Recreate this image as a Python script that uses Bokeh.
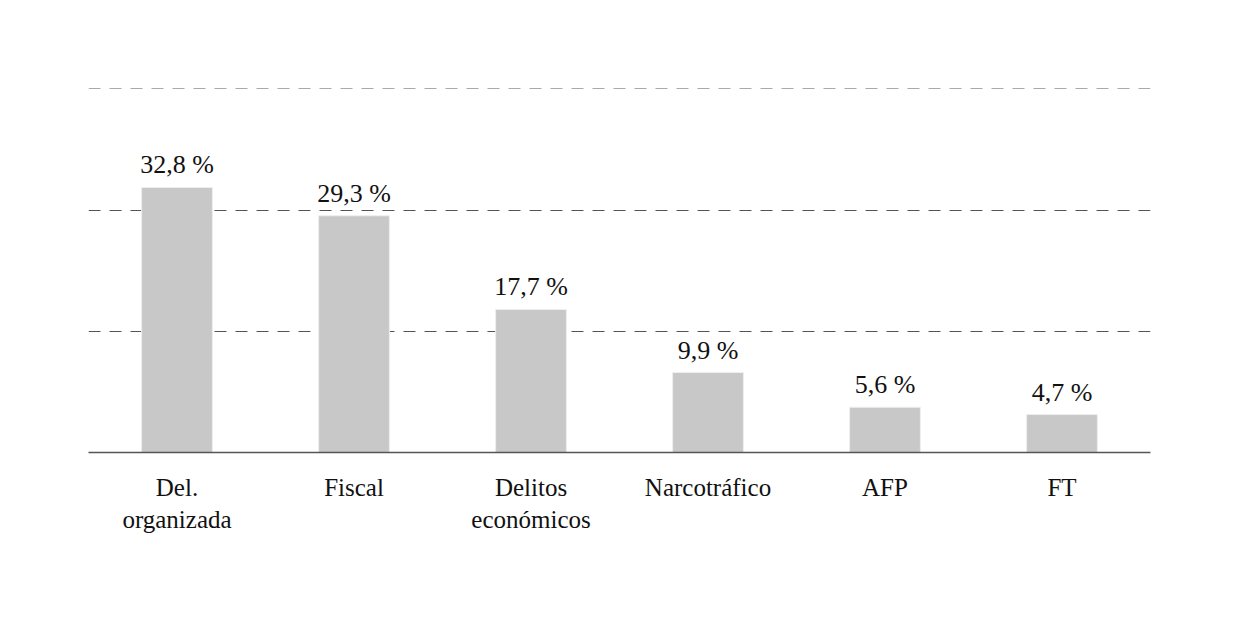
from bokeh.plotting import figure
from bokeh.models import ColumnDataSource, Range1d, FactorRange, SingleIntervalTicker
from bokeh.core.properties import value
from bokeh.embed import file_html
from bokeh.resources import INLINE

categories = ["Del. organizada", "Fiscal", "Delitos económicos", "Narcotráfico", "AFP", "FT"]
tick_labels = ["Del.\norganizada", "Fiscal", "Delitos\neconómicos", "Narcotráfico", "AFP", "FT"]
values = [32.8, 29.3, 17.7, 9.9, 5.6, 4.7]
value_labels = ["32,8 %", "29,3 %", "17,7 %", "9,9 %", "5,6 %", "4,7 %"]

FONT = "Liberation Serif"

src = ColumnDataSource(dict(cat=categories, val=values, lab=value_labels,
                            tick=tick_labels, zero=[0] * len(values)))

p = figure(width=1224, height=613, x_range=FactorRange(*categories, range_padding=0),
           y_range=Range1d(0, 45.05), output_backend="svg", toolbar_location=None,
           min_border_left=88, min_border_right=74, min_border_top=88, min_border_bottom=161)
p.outline_line_color = None
p.background_fill_color = "white"
p.border_fill_color = "white"

p.vbar(x="cat", top="val", width=0.4, source=src, fill_color="#c8c8c8",
       line_color="#eeeeee", line_width=1)
p.text(x="cat", y="val", text="lab", source=src, text_align="center", text_baseline="bottom",
       y_offset=-8, text_font=value(FONT), text_font_size="26px", text_color="#111111")
lbl = p.text(x="cat", y="zero", text="tick", source=src, text_align="center", text_baseline="top",
             y_offset=21, text_font=value(FONT), text_font_size="25px", text_color="#111111",
             text_line_height=1.2)
lbl.level = "overlay"

p.yaxis.visible = False
p.yaxis.ticker = SingleIntervalTicker(interval=15)
p.ygrid.ticker = SingleIntervalTicker(interval=15)
p.ygrid.grid_line_color = "#555555"
p.ygrid.grid_line_dash = "12 9"
p.ygrid.grid_line_width = 1
p.ygrid.level = "underlay"
p.xgrid.grid_line_color = None

p.xaxis.axis_line_color = "#555555"
p.xaxis.axis_line_width = 1.5
p.xaxis.major_tick_line_color = None
p.xaxis.minor_tick_line_color = None
p.xaxis.major_label_text_font_size = "0px"
p.xaxis.major_label_text_color = None

open("out.html", "w").write(file_html(p, INLINE))
